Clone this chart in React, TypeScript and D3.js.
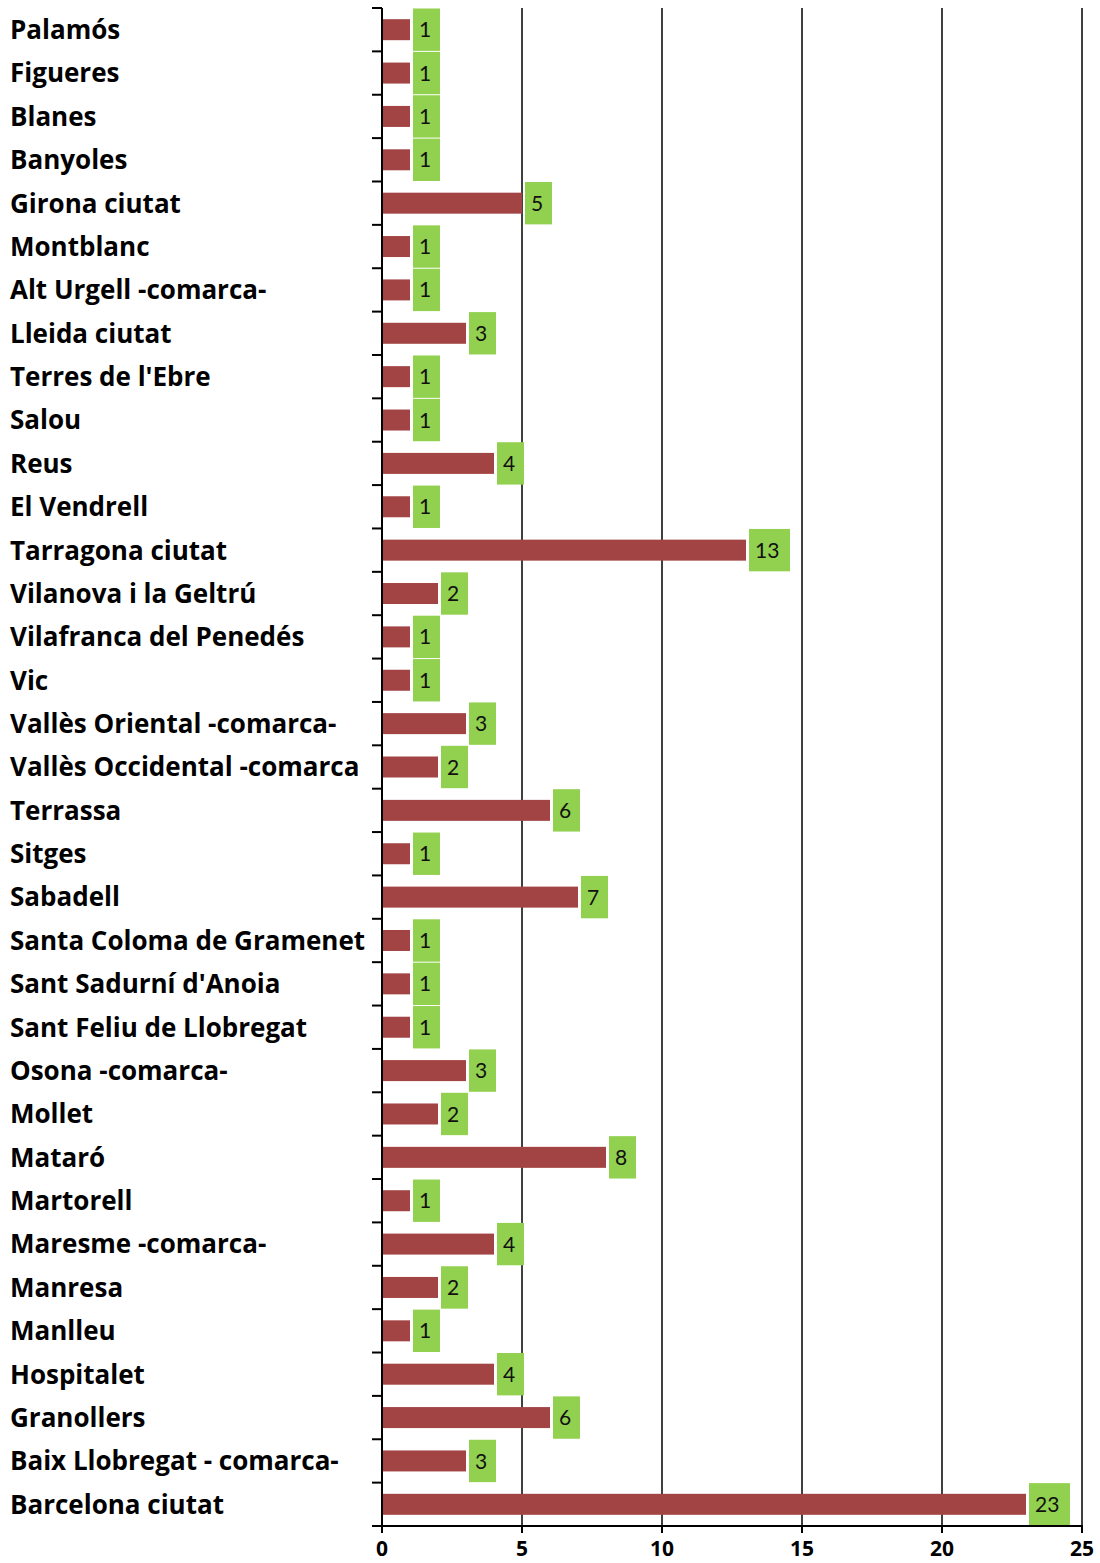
import React from "react";
import * as d3 from "d3";

const categories = [
  "Palamós", "Figueres", "Blanes", "Banyoles", "Girona ciutat", "Montblanc",
  "Alt Urgell -comarca-", "Lleida ciutat", "Terres de l'Ebre", "Salou", "Reus",
  "El Vendrell", "Tarragona ciutat", "Vilanova i la Geltrú", "Vilafranca del Penedés",
  "Vic", "Vallès Oriental -comarca-", "Vallès Occidental -comarca", "Terrassa",
  "Sitges", "Sabadell", "Santa Coloma de Gramenet", "Sant Sadurní d'Anoia",
  "Sant Feliu de Llobregat", "Osona -comarca-", "Mollet", "Mataró", "Martorell",
  "Maresme -comarca-", "Manresa", "Manlleu", "Hospitalet", "Granollers",
  "Baix Llobregat - comarca-", "Barcelona ciutat",
];
const values = [
  1, 1, 1, 1, 5, 1, 1, 3, 1, 1, 4, 1, 13, 2, 1, 1, 3, 2, 6, 1, 7, 1, 1, 1, 3, 2, 8, 1, 4, 2, 1, 4, 6, 3, 23,
];
const xTicks = [0, 5, 10, 15, 20, 25];

const W = 1100;
const H = 1563;
const left = 382;
const right = 1082;
const top = 8;
const bottom = 1526;

export default function App() {
  const x = d3.scaleLinear().domain([0, 25]).range([left, right]);
  const y = d3.scaleBand<string>().domain(categories).range([top, bottom]).padding(0);
  const bw = y.bandwidth();
  const barH = 21;
  const boundaries = d3.range(categories.length + 1).map((i) => top + i * bw);

  return (
    <svg
      width={W}
      height={H}
      style={{ position: "absolute", left: 0, top: 0, background: "#fff" }}
    >
      {xTicks.filter((t) => t > 0).map((t) => (
        <line key={"g" + t} x1={x(t)} x2={x(t)} y1={top} y2={bottom} stroke="#000" strokeWidth={1.5} />
      ))}
      {categories.map((c, i) => {
        const v = values[i];
        const cy = (y(c) as number) + bw / 2;
        const label = String(v);
        const boxW = label.length === 1 ? 27 : 41;
        const bx = x(v) + 3;
        return (
          <g key={c}>
            <rect x={x(0)} y={cy - barH / 2} width={x(v) - x(0)} height={barH} fill="#A34444" />
            <rect x={bx} y={cy - bw / 2 + 0.5} width={boxW} height={bw - 1} fill="#92D050" />
            <text
              x={bx + 6}
              y={cy}
              dy="0.36em"
              fontFamily="Lato, 'Open Sans', sans-serif"
              fontSize={21}
              fill="#111"
            >
              {label}
            </text>
            <text
              x={10}
              y={cy}
              dy="0.36em"
              fontFamily="'Open Sans', Lato, sans-serif"
              fontWeight="bold"
              fontSize={26}
              fill="#000"
            >
              {c}
            </text>
          </g>
        );
      })}
      <line x1={left} x2={left} y1={top} y2={bottom} stroke="#000" strokeWidth={2} />
      {boundaries.map((b, i) => (
        <line key={"yt" + i} x1={left - 10} x2={left} y1={b} y2={b} stroke="#000" strokeWidth={2} />
      ))}
      <line x1={left} x2={right + 1} y1={bottom} y2={bottom} stroke="#000" strokeWidth={2} />
      {xTicks.map((t) => (
        <g key={"xt" + t}>
          <line x1={x(t)} x2={x(t)} y1={bottom} y2={bottom + 7} stroke="#000" strokeWidth={2} />
          <text
            x={x(t)}
            y={1548}
            dy="0.36em"
            textAnchor="middle"
            fontFamily="'Open Sans', Lato, sans-serif"
            fontWeight="bold"
            fontSize={21}
            fill="#000"
          >
            {t}
          </text>
        </g>
      ))}
    </svg>
  );
}
